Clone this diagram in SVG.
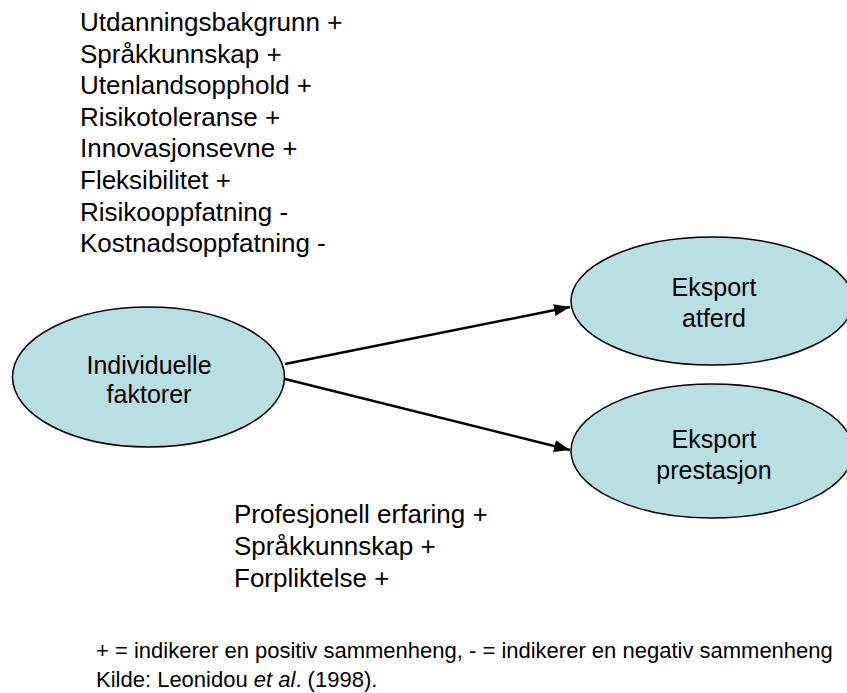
<svg xmlns="http://www.w3.org/2000/svg" width="847" height="693" viewBox="0 0 847 693">
<style>
.t{font-family:"Liberation Sans",Arial,sans-serif;fill:#000}
.list{font-size:26px}
.node{fill:#B9DFE3;stroke:#000;stroke-width:1.5}
.nl{font-size:25px;text-anchor:middle}
.foot{font-size:22px}
.edge{stroke:#000;stroke-width:2.5;fill:none}
</style>
<defs>
<marker id="arr" markerUnits="userSpaceOnUse" markerWidth="18" markerHeight="14" refX="16" refY="6" orient="auto">
<path d="M0,0 L16,6 L0,12 z" fill="#000"/>
</marker>
</defs>
<rect width="847" height="693" fill="#fff"/>
<g id="list-top" class="t list">
<text x="80" y="31">Utdanningsbakgrunn +</text>
<text x="80" y="62.6">Språkkunnskap +</text>
<text x="80" y="94.2">Utenlandsopphold +</text>
<text x="80" y="125.8">Risikotoleranse +</text>
<text x="80" y="157.4">Innovasjonsevne +</text>
<text x="80" y="189">Fleksibilitet +</text>
<text x="80" y="220.6">Risikooppfatning -</text>
<text x="80" y="252.2">Kostnadsoppfatning -</text>
</g>
<g id="connectors">
<line class="edge" x1="285" y1="364" x2="570" y2="307" marker-end="url(#arr)"/>
<line class="edge" x1="285" y1="379" x2="570" y2="450" marker-end="url(#arr)"/>
</g>
<g id="node-individuelle">
<ellipse class="node" cx="148.5" cy="377" rx="136" ry="70"/>
<text class="t nl" x="149" y="374">Individuelle</text>
<text class="t nl" x="149" y="403">faktorer</text>
</g>
<g id="node-atferd">
<ellipse class="node" cx="712" cy="301" rx="141" ry="64"/>
<text class="t nl" x="714" y="296">Eksport</text>
<text class="t nl" x="714" y="327">atferd</text>
</g>
<g id="node-prestasjon">
<ellipse class="node" cx="712" cy="451" rx="141" ry="67"/>
<text class="t nl" x="714" y="448">Eksport</text>
<text class="t nl" x="714" y="479">prestasjon</text>
</g>
<g id="list-bottom" class="t list">
<text x="234" y="523">Profesjonell erfaring +</text>
<text x="234" y="555">Språkkunnskap +</text>
<text x="234" y="587">Forpliktelse +</text>
</g>
<g id="footer" class="t foot">
<text x="96" y="658">+ = indikerer en positiv sammenheng, - = indikerer en negativ sammenheng</text>
<text x="96" y="687">Kilde: Leonidou <tspan font-style="italic">et al</tspan>. (1998).</text>
</g>
</svg>
